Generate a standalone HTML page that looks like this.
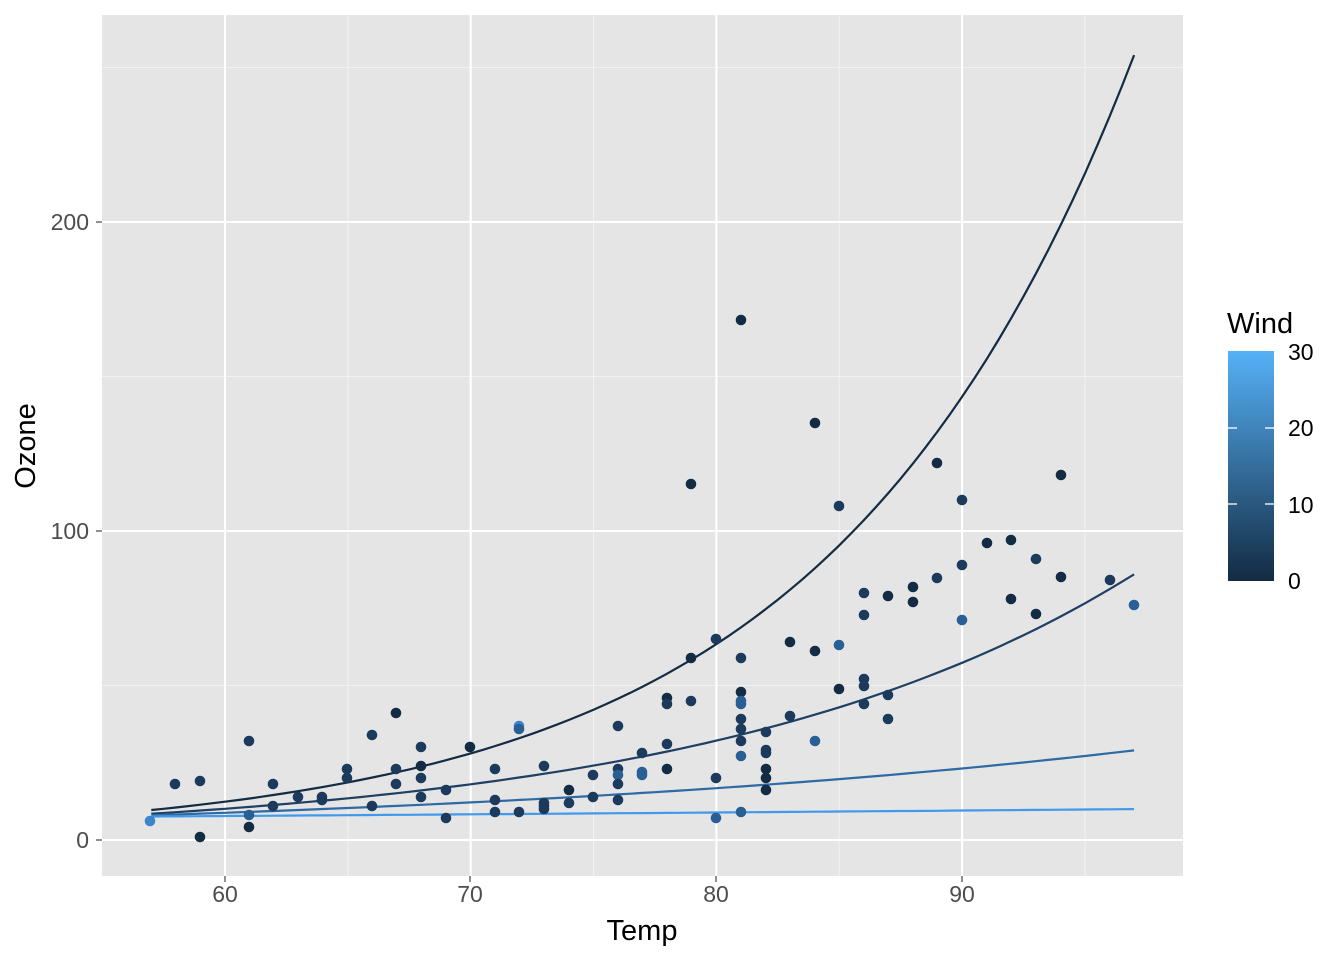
<!DOCTYPE html><html><head><style>body{margin:0;background:#fff}svg{display:block}text{font-family:"Liberation Sans",Arial,sans-serif}</style></head><body>
<svg id="s" width="1344" height="960" xmlns="http://www.w3.org/2000/svg">
<defs><linearGradient id="g" x1="0" y1="1" x2="0" y2="0"><stop offset="0" stop-color="#132B43"/><stop offset="1" stop-color="#56B1F7"/></linearGradient>
<clipPath id="c"><rect x="102" y="15" width="1081" height="861"/></clipPath></defs>
<rect x="102" y="15" width="1081" height="861" fill="#e5e5e5"/>
<g id="grid"></g><g id="curves" clip-path="url(#c)"></g><g id="pts"></g>
<g fill="#4d4d4d" font-size="23" text-anchor="end">
<text x="89" y="848">0</text><text x="89" y="539">100</text><text x="89" y="230">200</text></g>
<g stroke="#333" stroke-width="1.1"><line x1="96" x2="102" y1="840" y2="840"/><line x1="96" x2="102" y1="531" y2="531"/><line x1="96" x2="102" y1="222" y2="222"/>
<line x1="225" x2="225" y1="876" y2="882"/><line x1="470" x2="470" y1="876" y2="882"/><line x1="716" x2="716" y1="876" y2="882"/><line x1="962" x2="962" y1="876" y2="882"/></g>
<g fill="#4d4d4d" font-size="23" text-anchor="middle">
<text x="225" y="902">60</text><text x="470" y="902">70</text><text x="716" y="902">80</text><text x="962" y="902">90</text></g>
<text x="642" y="940" font-size="29" text-anchor="middle">Temp</text>
<text transform="translate(35,446) rotate(-90)" font-size="29" text-anchor="middle">Ozone</text>
<text x="1227" y="333" font-size="29">Wind</text>
<rect x="1228" y="351" width="46" height="230" fill="url(#g)"/>
<g stroke="#fff" stroke-width="1.3"><line x1="1228" x2="1237" y1="504" y2="504"/><line x1="1265" x2="1274" y1="504" y2="504"/><line x1="1228" x2="1237" y1="428" y2="428"/><line x1="1265" x2="1274" y1="428" y2="428"/></g>
<g font-size="23" fill="#000"><text x="1288" y="589">0</text><text x="1288" y="513">10</text><text x="1288" y="436">20</text><text x="1288" y="360">30</text></g>
</svg>
<script>
const NS="http://www.w3.org/2000/svg";
function el(p,t,a){const e=document.createElementNS(NS,t);for(const k in a)e.setAttribute(k,a[k]);document.getElementById(p).appendChild(e);}
const X=t=>225+(t-60)*24.57, Y=o=>840-o*3.09;
[65,75,85,95].forEach(t=>el("grid","line",{x1:X(t),x2:X(t),y1:15,y2:876,stroke:"#f2f2f2","stroke-width":1}));
[50,150,250].forEach(o=>el("grid","line",{x1:102,x2:1183,y1:Y(o),y2:Y(o),stroke:"#f2f2f2","stroke-width":1}));
[60,70,80,90].forEach(t=>el("grid","line",{x1:X(t),x2:X(t),y1:15,y2:876,stroke:"#fff","stroke-width":2.1}));
[0,100,200].forEach(o=>el("grid","line",{x1:102,x2:1183,y1:Y(o),y2:Y(o),stroke:"#fff","stroke-width":2.1}));
[[9.7,254,"#132B43"],[8.5,86,"#1f3f63"],[8,29,"#2d6aa6"],[7.6,10,"#4099ea"]].forEach(([a,b,c])=>{
let d="";for(let i=0;i<=80;i++){const t=57+i*0.5;const o=a*Math.pow(b/a,(t-57)/40);d+=(i?"L":"M")+X(t).toFixed(1)+","+Y(o).toFixed(1);}
el("curves","path",{d:d,fill:"none",stroke:c,"stroke-width":2.2});});
const P=[[150,821,3],[175,784,1],[200,781,1],[200,837,0],[249,741,1],[249,815,2],[249,827,0],[273,784,1],[273,806,1],[298,797,1],[322,797,1],[322,800,1],[347,769,1],[347,778,1],[372,735,1],[372,806,1],[396,713,0],[396,769,1],[396,784,1],[421,747,1],[421,766,0],[421,778,1],[421,797,1],[446,790,1],[446,818,1],[470,747,0],[495,769,1],[495,800,1],[495,812,1],[519,726,3],[519,729,2],[519,812,1],[544,766,1],[544,803,1],[544,806,1],[544,809,1],[569,790,0],[569,803,1],[593,775,1],[593,797,1],[618,726,1],[618,769,1],[618,775,2],[618,784,1],[618,800,1],[642,753,1],[642,772,2],[642,775,2],[667,698,0],[667,704,1],[667,744,1],[667,769,0],[691,484,0],[691,658,0],[691,701,1],[716,639,1],[716,778,1],[716,818,2],[741,320,0],[741,658,1],[741,692,0],[741,701,2],[741,704,2],[741,719,1],[741,729,1],[741,741,1],[741,756,2],[741,812,2],[766,732,1],[766,750,1],[766,753,1],[766,769,0],[766,778,0],[766,790,0],[790,642,0],[790,716,1],[815,423,0],[815,651,0],[815,741,2],[839,506,1],[839,645,2],[839,689,0],[864,593,1],[864,615,1],[864,679,1],[864,686,1],[864,704,1],[888,596,0],[888,695,1],[888,719,1],[913,587,0],[913,602,0],[937,463,0],[937,578,1],[962,500,1],[962,565,1],[962,620,2],[987,543,0],[1011,540,0],[1011,599,0],[1036,559,1],[1036,614,0],[1061,475,0],[1061,577,0],[1110,580,1],[1134,605,2]];
const C=["#132B43","#1c3a5c","#2a5f95","#3a85cc"];
P.forEach(([x,y,c])=>el("pts","circle",{cx:x,cy:y,r:5.3,fill:C[c]}));
</script></body></html>
